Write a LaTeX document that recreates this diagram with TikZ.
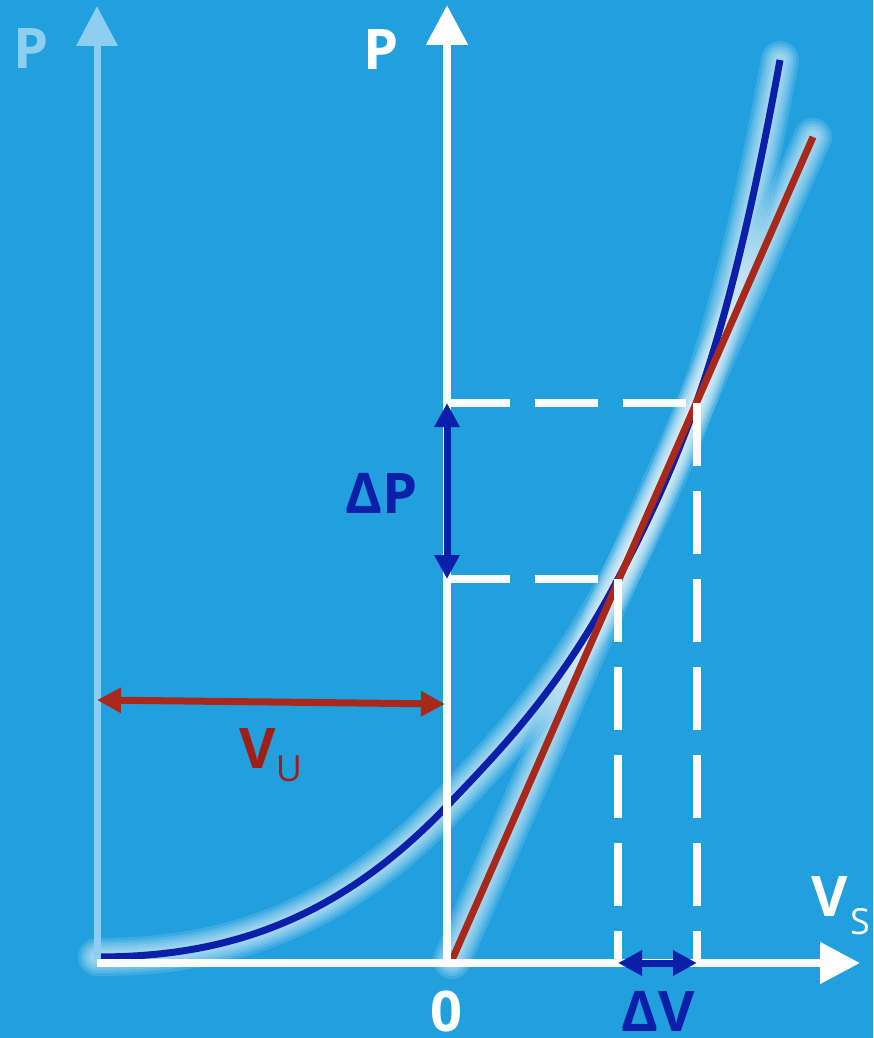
\documentclass[tikz,border=0pt]{standalone}
\usepackage{fontspec}
\setmainfont{Open Sans}
\usetikzlibrary{arrows.meta}

\definecolor{bgblue}{RGB}{34,160,222}
\definecolor{curveblue}{RGB}{12,31,168}
\definecolor{linered}{RGB}{168,40,28}
\definecolor{labelred}{RGB}{160,30,24}
\definecolor{paleaxis}{RGB}{142,206,240}

\tikzset{
  axis/.style={line width=8pt, white, -{Triangle[length=40pt,width=40pt]}},
  paleax/.style={line width=7pt, paleaxis, -{Triangle[length=40pt,width=40pt]}},
  guide/.style={line width=8pt, white, dash pattern=on 63pt off 25pt},
  glow/.style={line cap=round, white},
  curve/.style={line width=7pt, curveblue},
  secant/.style={line width=7pt, linered},
  delta/.style={line width=7pt, {Triangle[length=24pt,width=24pt]}-{Triangle[length=24pt,width=24pt]}},
  lbl/.style={inner sep=0pt, font=\fontsize{56}{60}\selectfont\bfseries},
  sub/.style={inner sep=0pt, font=\fontsize{36}{40}\selectfont}
}

% power curve through the two marked points
\newcommand{\powercurve}{(97,957) .. controls (213.7,957) and (330.3,928.5) .. (447,806)
  .. controls (504,746.2) and (561,687.3) .. (618,579)
  .. controls (644.3,529) and (670.7,474.7) .. (697,401)
  .. controls (724.7,323.5) and (752.3,212.2) .. (780,60)}

\begin{document}
\begin{tikzpicture}[x=1pt, y=-1pt]
  % Background and frame
  \fill[bgblue] (0,0) rectangle (873,1038);
  \useasboundingbox (0,0) rectangle (873,1038);

  % Points used below
  \coordinate (L0) at (97,963);
  \coordinate (Lt) at (97,6);
  \coordinate (O) at (447,963);
  \coordinate (Pt) at (447,5);
  \coordinate (Vt) at (860,963);
  \coordinate (A) at (618,579);
  \coordinate (B) at (697,403);
  \coordinate (Ay) at (447,579);
  \coordinate (By) at (447,403);
  \coordinate (Ax) at (618,963);
  \coordinate (Bx) at (697,963);
  \coordinate (R0) at (452,960);
  \coordinate (R1) at (813,137);

  % Glow round the curves
  \foreach \w in {38,32,27,22,17,12} {
    \draw[glow, line width=\w pt, opacity=0.13] \powercurve;
    \draw[glow, line width=\w pt, opacity=0.13] (R0) -- (R1);
  }

  % Curve and secant
  \draw[curve] \powercurve;
  \draw[secant] (R0) -- (R1);

  % Draw axes
  \draw[paleax] (97,960) -- (Lt);
  \draw[axis] (O) -- (Pt);
  \draw[axis] (L0) -- (Vt);

  % Dashed guides
  \draw[guide] (By) -- (687,403);
  \draw[guide] (B) -- (Bx);
  \draw[guide] (Ay) -- (610,579);
  \draw[guide] (A) -- (Ax);

  % Difference arrows
  \draw[delta, curveblue] (By) -- (Ay);
  \draw[delta, curveblue] (Ax) -- (Bx);
  \draw[delta, linered] (97,700) -- (445,704);

  % Labels
  \node[lbl, paleaxis] (pl) at (31,49) {P};
  \node[lbl, white] (pr) at (381,50) {P};
  \node[lbl, curveblue] (dp) at (382,493) {ΔP};
  \node[lbl, curveblue] (dv) at (658,1011) {ΔV};
  \node[lbl, white] (zero) at (446,1011) {0};
  \node[lbl, white] (vs) at (830,897) {V};
  \node[sub, white] (vss) at (860,922) {S};
  \node[lbl, labelred] (vu) at (258,749) {V};
  \node[sub, labelred] (vus) at (289,769) {U};
\end{tikzpicture}
\end{document}
